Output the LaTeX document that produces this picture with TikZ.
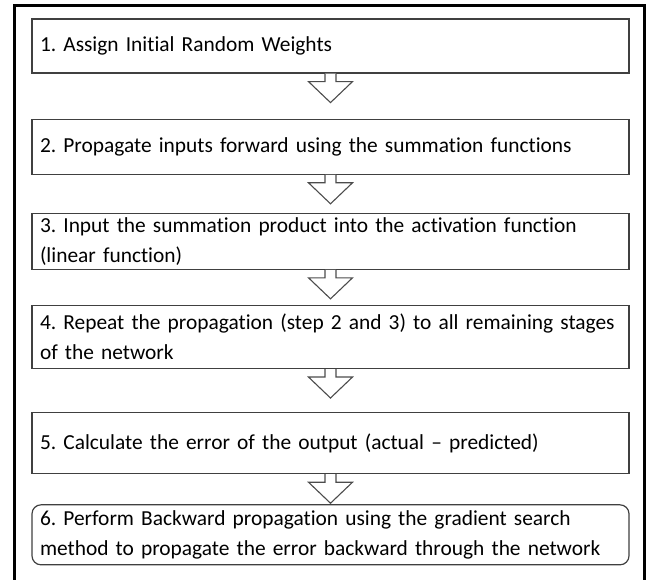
\documentclass[tikz,border=0pt]{standalone}
\usepackage{fontspec}
\setmainfont[Ligatures=NoCommon]{Carlito}
\frenchspacing
\usetikzlibrary{positioning}

\tikzset{
  stepbox/.style = {draw=black!75, line width=1.2pt, fill=white, text width=581pt,
    align=left, inner xsep=8pt, inner ysep=4pt, font=\fontsize{21.4}{30}\selectfont},
  blockarr/.style = {draw=black!70, line width=1.1pt, fill=white, line join=miter}
}

\begin{document}
\begin{tikzpicture}[x=1pt, y=1pt]
    \useasboundingbox (0,0) rectangle (656,-580);
    % outer frame, open at the bottom
    \draw[line width=3pt] (14,-6) rectangle (644,-600);

    \node[stepbox, minimum height=54pt] (b1) at (330.5,-46) {1. Assign Initial Random Weights};
    \node[stepbox, minimum height=55pt] (b2) [below=45pt of b1] {2. Propagate inputs forward using the summation functions};
    \node[stepbox, minimum height=55pt] (b3) [below=38pt of b2] {3. Input the summation product into the activation function\\(linear function)};
    \node[stepbox, minimum height=63pt] (b4) [below=35pt of b3] {4. Repeat the propagation (step 2 and 3) to all remaining stages\\of the network};
    \node[stepbox, minimum height=61pt] (b5) [below=43pt of b4] {5. Calculate the error of the output (actual -- predicted)};
    \node[stepbox, minimum height=60pt, rounded corners=9pt] (b6) [below=30pt of b5] {6. Perform Backward propagation using the gradient search\\method to propagate the error backward through the network};

    % hollow block arrows between the steps
    \foreach \a in {b1,b2,b3,b4,b5} {
        \draw[blockarr] ([xshift=-5.5pt]\a.south) -- ++(0,-8) -- ++(-16.5,0)
            -- ++(22,-21) -- ++(22,21) -- ++(-16.5,0) -- ++(0,8);
    }
\end{tikzpicture}
\end{document}
